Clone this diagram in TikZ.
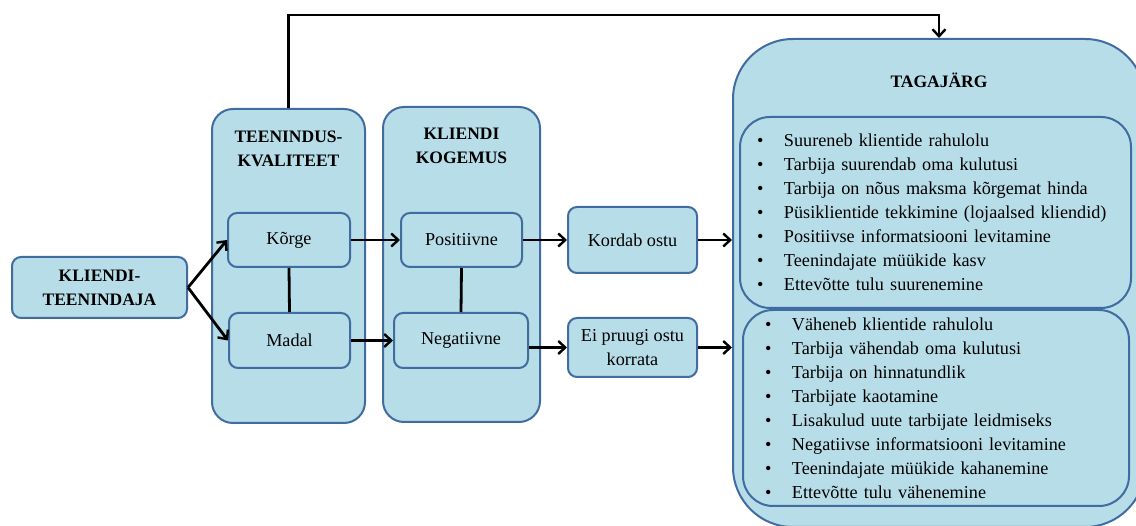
\documentclass[tikz,border=0pt]{standalone}
\usepackage{fontspec}
\setmainfont{Liberation Serif}
\usetikzlibrary{arrows.meta}
\usetikzlibrary{shapes.geometric,calc}
\definecolor{boxfill}{RGB}{183,221,232}
\definecolor{boxline}{RGB}{65,108,160}
\newcommand{\tagitem}[1]{\makebox[27pt][l]{\textbullet}#1}
\tikzset{
	boxbase/.style={draw=boxline, fill=boxfill, line width=2pt, inner sep=0pt, align=center},
	smallbox/.style={boxbase, rounded corners=9pt, font=\fontsize{18.2}{24}\selectfont},
	columnbox/.style={boxbase, rounded corners=21pt},
	listbox/.style={boxbase, rounded corners=30pt, align=left, font=\fontsize{18.2}{24}\selectfont},
	titletext/.style={align=center, inner sep=0pt, font=\fontsize{17.5}{24}\selectfont\bfseries},
	link/.style={line width=2.8pt, black},
	flow/.style={link, -{Straight Barb[length=7pt,width=13pt,line width=2.4pt]}},
}
\begin{document}
\begin{tikzpicture}[x=1pt,y=-1pt]
		\useasboundingbox (0,0) rectangle (1136,526);

		\coordinate(KT) at (99.5,287.5);
		\coordinate(TK) at (288.5,266);
		\coordinate(KK) at (461.5,264.5);
		\coordinate(TG) at (939,283);
		\coordinate(topline) at (0,15);

		% columns
		\node[columnbox, minimum width=153pt, minimum height=314pt] (teenindus) at (TK) {};
		\node[titletext] (teenindustitle) at (288.5,148.5) {TEENINDUS-\\KVALITEET};
		\node[columnbox, minimum width=157pt, minimum height=315pt] (kogemus) at (KK) {};
		\node[titletext] (kogemustitle) at (461.5,145.5) {KLIENDI\\KOGEMUS};

		\node[boxbase, rounded corners=60pt, minimum width=412pt, minimum height=488pt] (tagajarg) at (TG) {};
		\node[titletext] (tagajargtitle) at (939,80) {TAGAJÄRG};

		% small boxes
		\node[smallbox, minimum width=175pt, minimum height=61pt, font=\fontsize{17.5}{24}\selectfont\bfseries] (klient) at (KT) {KLIENDI-\\TEENINDAJA};
		\node[smallbox, minimum width=122pt, minimum height=54pt] (korge) at (289,240) {Kõrge};
		\node[smallbox, minimum width=121pt, minimum height=55pt] (madal) at (289.5,340.5) {Madal};
		\node[smallbox, minimum width=121pt, minimum height=54pt] (positiivne) at (461.5,240) {Positiivne};
		\node[smallbox, minimum width=134pt, minimum height=55pt] (negatiivne) at (461,340.5) {Negatiivne};
		\node[smallbox, minimum width=129pt, minimum height=66pt] (kordab) at (632.5,240) {Kordab ostu};
		\node[smallbox, minimum width=129pt, minimum height=59pt] (eipruugi) at (632.5,347.5) {Ei pruugi ostu\\korrata};

		% lists
		\node[listbox, minimum width=391pt, minimum height=191pt, inner xsep=17pt, text width=357pt] (pluslist) at (935.5,212.5) {%
			\tagitem{Suureneb klientide rahulolu}\\
			\tagitem{Tarbija suurendab oma kulutusi}\\
			\tagitem{Tarbija on nõus maksma kõrgemat hinda}\\
			\tagitem{Püsiklientide tekkimine (lojaalsed kliendid)}\\
			\tagitem{Positiivse informatsiooni levitamine}\\
			\tagitem{Teenindajate müükide kasv}\\
			\tagitem{Ettevõtte tulu suurenemine}};
		\node[listbox, minimum width=386pt, minimum height=196pt, inner xsep=22pt, text width=342pt] (minuslist) at (936,408) {%
			\tagitem{Väheneb klientide rahulolu}\\
			\tagitem{Tarbija vähendab oma kulutusi}\\
			\tagitem{Tarbija on hinnatundlik}\\
			\tagitem{Tarbijate kaotamine}\\
			\tagitem{Lisakulud uute tarbijate leidmiseks}\\
			\tagitem{Negatiivse informatsiooni levitamine}\\
			\tagitem{Teenindajate müükide kahanemine}\\
			\tagitem{Ettevõtte tulu vähenemine}};

		% connectors
		\draw[flow] (klient.east) -- (korge.west);
		\draw[flow] (klient.east) -- (madal.west);
		\draw[link] (korge.south) -- (madal.north);
		\draw[link] (positiivne.south) -- (negatiivne.north);
		\draw[flow] (korge.east) -- (positiivne.west);
		\draw[flow] (madal.east) -- (negatiivne.west);
		\draw[flow] (positiivne.east) -- (kordab.west);
		\draw[flow] (negatiivne.east |- eipruugi.west) -- (eipruugi.west);
		\draw[flow] (kordab.east) -- (kordab.east -| tagajarg.west);
		\draw[flow] (eipruugi.east) -- (eipruugi.east -| tagajarg.west);
		\draw[flow] (teenindus.north) -- (teenindus.north |- topline) -| (tagajarg.north);

\end{tikzpicture}
\end{document}
